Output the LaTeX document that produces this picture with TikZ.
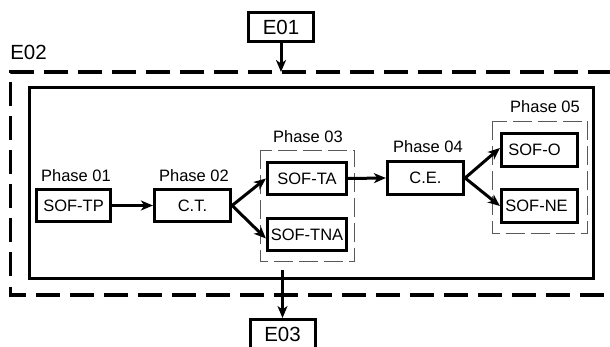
\documentclass[tikz,border=0pt]{standalone}
\usepackage{fontspec}
\setmainfont{Liberation Sans}
\usetikzlibrary{arrows.meta}
\begin{document}
\begin{tikzpicture}[x=1pt,y=-1pt,
  box/.style={draw,line width=3.2pt,inner sep=0pt,minimum width=75pt,minimum height=32pt,font=\fontsize{16.5}{18}\selectfont},
  ebox/.style={draw,line width=3pt,inner sep=0pt,minimum width=65pt,minimum height=29pt,font=\fontsize{20.5}{22}\selectfont},
  lbl/.style={inner sep=0pt,font=\fontsize{16.5}{18}\selectfont},
  arr/.style={line width=3pt,-{Stealth[length=12pt,width=10pt,inset=3.5pt]}},
  grp/.style={draw=black!65,line width=1pt,dash pattern=on 19pt off 6pt},
  outer/.style={line width=3.3pt,dash pattern=on 24pt off 10pt}]
\useasboundingbox (0,0) rectangle (610,347);
% outer dashed frame (right side outside picture)
\draw[outer] (612,72) -- (10.5,72) -- (10.5,295) -- (612,295);
\node[inner sep=0pt,font=\fontsize{20.5}{22}\selectfont] (e02) at (28.5,52) {E02};
% inner solid frame
\draw[line width=3pt] (29.5,87.5) rectangle (593.5,278.5);
% phase groups
\draw[grp] (260.5,150.5) rectangle (354.5,262);
\draw[grp] (492.5,121.5) rectangle (587.5,233.5);
% boxes
\node[box,minimum width=74pt] (tp) at (73.5,205.5) {SOF-TP};
\node[box,minimum width=76pt] (ct) at (192.5,205.5) {C.T.};
\node[box,minimum width=79pt] (ta) at (307,178.5) {SOF-TA};
\node[box,minimum width=79pt] (tna) at (307,234.5) {SOF-TNA};
\node[box,minimum width=76pt,minimum height=33pt] (ce) at (425.5,178) {C.E.};
\node[box,minimum width=76pt,minimum height=33pt] (so) at (539.5,150) {\hspace*{-10pt}SOF-O};
\node[box,minimum width=76pt,minimum height=33pt] (sne) at (539.5,206) {\hspace*{-6pt}SOF-NE};
% labels
\node[lbl] (p1) at (76,176) {Phase 01};
\node[lbl] (p2) at (194,176) {Phase 02};
\node[lbl] (p3) at (308,137) {Phase 03};
\node[lbl] (p4) at (428,147) {Phase 04};
\node[lbl] (p5) at (545,107) {Phase 05};
% E boxes
\node[ebox] (e01) at (281,27) {E01};
\node[ebox] (e03) at (282.5,334) {E03};
\coordinate (intop) at (281,72);
\coordinate (outbot) at (282.5,270);
% arrows
\draw[arr] (tp.east) -- (ct.west);
\draw[arr] (ct.east) -- (ta.west);
\draw[arr] (ct.east) -- ([yshift=-4pt]tna.west);
\draw[arr] (ta.east) -- (ce.west);
\draw[arr] (ce.east) -- ([yshift=2pt]so.west);
\draw[arr] (ce.east) -- (sne.west);
\draw[arr] (e01.south) -- (intop);
\draw[arr] (outbot) -- (e03.north);
\end{tikzpicture}
\end{document}
